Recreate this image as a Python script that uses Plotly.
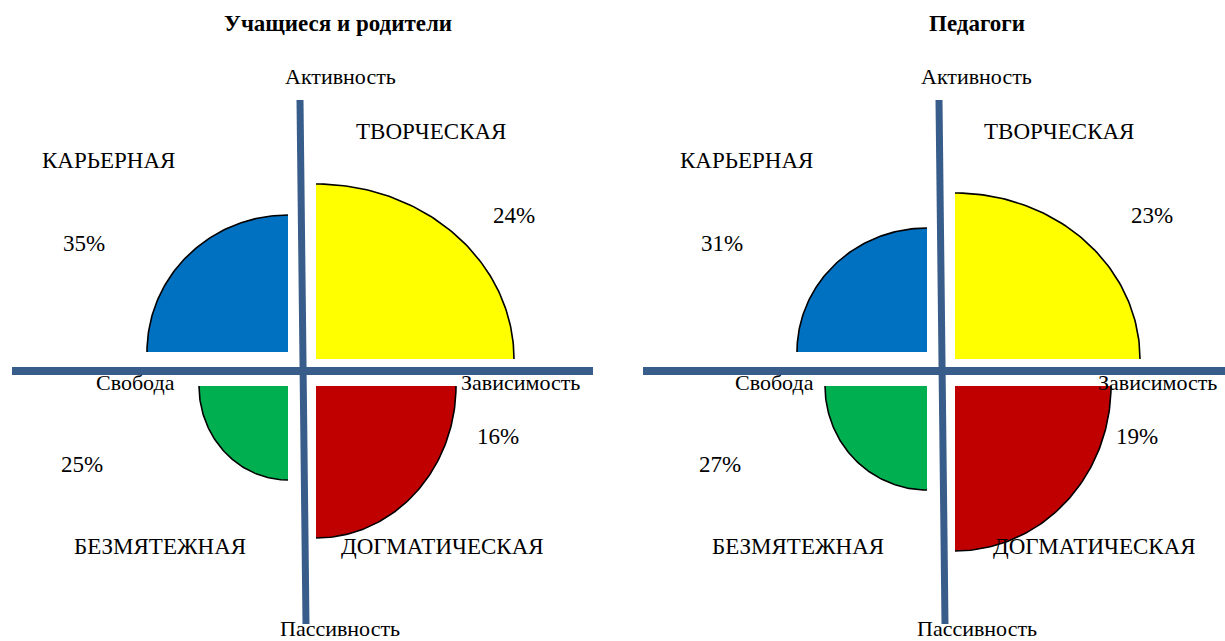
import numpy as np
import plotly.graph_objects as go

# ---------------- data ----------------
panels = ["Учащиеся и родители", "Педагоги"]
styles = ["КАРЬЕРНАЯ", "ТВОРЧЕСКАЯ", "БЕЗМЯТЕЖНАЯ", "ДОГМАТИЧЕСКАЯ"]
students_pct = [35, 24, 25, 16]
teachers_pct = [31, 23, 27, 19]
# drawn extent of each quarter (horizontal / vertical radius)
students_rx = [141, 198, 89, 140]
students_ry = [137, 175, 94, 152]
teachers_rx = [130, 185, 102, 156]
teachers_ry = [124, 166, 104, 165]
axis_labels = ["Активность", "Пассивность", "Свобода", "Зависимость"]

# ---------------- layout constants ----------------
W, H = 1225, 641
FONT = "Liberation Serif"
colors = ["#0070C0", "#FFFF00", "#00B050", "#C00000"]
AXIS_COLOR = "#385D8A"
panel_cx = [302, 941]
CY = 371
# quadrant angular ranges (deg) and corner offsets from the cross centre
angles = [(90, 180), (0, 90), (180, 270), (270, 360)]
corner_dx = [-14, 14, -14, 14]
corner_dy = [-19, -12, 15, 15]

fig = go.Figure()

pct_data = [students_pct, teachers_pct]
rx_data = [students_rx, teachers_rx]
ry_data = [students_ry, teachers_ry]

for p in range(2):
    cx0 = panel_cx[p]
    for i in range(4):
        ccx = cx0 + corner_dx[i]
        ccy = CY + corner_dy[i]
        a0, a1 = angles[i]
        t = np.radians(np.linspace(a0, a1, 80))
        ax_ = ccx + rx_data[p][i] * np.cos(t)
        ay_ = ccy - ry_data[p][i] * np.sin(t)
        fig.add_trace(go.Scatter(
            x=np.concatenate([[ccx], ax_, [ccx]]),
            y=np.concatenate([[ccy], ay_, [ccy]]),
            fill="toself", fillcolor=colors[i], mode="none",
            hoverinfo="skip", showlegend=False))
        fig.add_trace(go.Scatter(
            x=ax_, y=ay_, mode="lines",
            line=dict(color="black", width=1.6),
            hoverinfo="skip", showlegend=False))
    # cross axes
    fig.add_trace(go.Scatter(
        x=[cx0 - 2, cx0 + 4], y=[100, 624], mode="lines",
        line=dict(color=AXIS_COLOR, width=7), hoverinfo="skip", showlegend=False))
    left_end = 12 if p == 0 else 643
    right_end = 593 if p == 0 else 1230
    fig.add_trace(go.Scatter(
        x=[left_end, right_end], y=[CY, CY], mode="lines",
        line=dict(color=AXIS_COLOR, width=8), hoverinfo="skip", showlegend=False))

# ---------------- text ----------------
def txt(x, y, s, size=23, bold=False):
    fig.add_annotation(x=x, y=y, text=f"<b>{s}</b>" if bold else s,
                       showarrow=False, xanchor="center", yanchor="middle",
                       font=dict(family=FONT, size=size, color="black"))

title_x = [338, 977]
for p in range(2):
    txt(title_x[p], 23, panels[p], size=23, bold=True)

label_pos = [
    [(108, 160), (431, 131), (160, 546), (442, 546)],
    [(746, 160), (1059, 131), (798, 546), (1094, 546)],
]
pct_pos = [
    [(84, 243), (514, 215), (82, 464), (498, 436)],
    [(722, 243), (1152, 215), (720, 464), (1137, 436)],
]
axis_pos = [
    [(340, 76), (340, 628), (135, 382), (520, 382)],
    [(976, 76), (977, 628), (774, 382), (1157, 382)],
]
for p in range(2):
    for i in range(4):
        txt(*label_pos[p][i], styles[i])
        txt(*pct_pos[p][i], f"{pct_data[p][i]}%")
        txt(*axis_pos[p][i], axis_labels[i], size=22)

fig.update_layout(
    width=W, height=H, margin=dict(l=0, r=0, t=0, b=0),
    paper_bgcolor="white", plot_bgcolor="white",
    xaxis=dict(range=[0, W], visible=False, fixedrange=True),
    yaxis=dict(range=[H, 0], visible=False, fixedrange=True),
)
fig.write_html("out.html", config={"displayModeBar": False},
               post_script="document.body.style.margin='0px';document.body.style.overflow='hidden';")
